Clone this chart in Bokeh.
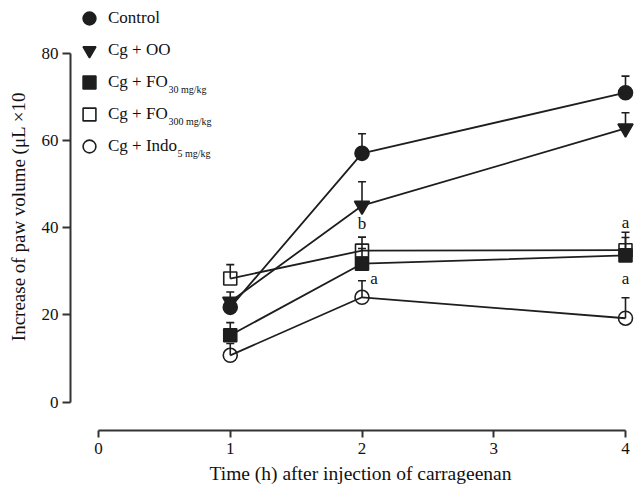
from bokeh.plotting import figure
from bokeh.models import (Range1d, Whisker, TeeHead, ColumnDataSource, Legend,
                          LegendItem, Label, FixedTicker, Title)
from bokeh.core.properties import value
from bokeh.embed import file_html
from bokeh.resources import INLINE

# ---------------- data ----------------
times = [1, 2, 4]
control = [21.7, 57.0, 70.9]
control_err = [2.0, 4.5, 3.8]
oo = [23.0, 45.0, 62.7]
oo_err = [2.2, 5.5, 3.6]
fo30 = [15.3, 31.7, 33.6]
fo30_err = [2.9, 3.5, 4.1]
fo300 = [28.3, 34.7, 34.8]
fo300_err = [3.2, 3.1, 4.1]
indo = [10.7, 24.0, 19.2]
indo_err = [2.7, 3.8, 4.7]

x_ticks = [0, 1, 2, 3, 4]
y_ticks = [0, 20, 40, 60, 80]

x_title = "Time (h) after injection of carrageenan"
y_title = "Increase of paw volume (\u03bcL \u00d710"

# ---------------- geometry (page pixels) ----------------
W, H = 634, 490
FR_L, FR_T, FR_B = 70, 2, 430          # frame edges on the page
px_per_x = 131.75
px_per_y = 4.3625
X0_PX, Y0_PX = 98.0, 401.5             # page position of x=0 / y=0
x_start = (FR_L - X0_PX) / px_per_x
x_end = x_start + (W - FR_L) / px_per_x
y_start = -(FR_B - Y0_PX) / px_per_y
y_end = y_start + (FR_B - FR_T) / px_per_y


def sx(px):  # page px -> data x
    return x_start + (px - FR_L) / px_per_x


def sy(py):  # page px -> data y
    return y_start + (FR_B - py) / px_per_y


FONT = "Liberation Serif"
INK = "#1e1e1e"
TXT = "#111111"

p = figure(width=W, height=H, output_backend="svg", toolbar_location=None,
           x_range=Range1d(x_start, x_end), y_range=Range1d(y_start, y_end),
           min_border_left=FR_L, min_border_right=0, min_border_top=FR_T,
           min_border_bottom=H - FR_B)
p.outline_line_color = None
p.grid.grid_line_color = None

for ax in (p.xaxis[0], p.yaxis[0]):
    ax.axis_line_width = 2
    ax.axis_line_color = "#333333"
    ax.major_tick_line_width = 2
    ax.major_tick_line_color = "#333333"
    ax.major_tick_in = 0
    ax.minor_tick_line_color = None
    ax.major_label_text_font = FONT
    ax.major_label_text_font_size = "17px"
    ax.major_label_text_color = TXT

p.xaxis.bounds = (x_ticks[0], x_ticks[-1])
p.yaxis.bounds = (y_ticks[0], y_ticks[-1])
p.xaxis.ticker = FixedTicker(ticks=x_ticks)
p.yaxis.ticker = FixedTicker(ticks=y_ticks)
p.xaxis.major_tick_out = 7
p.yaxis.major_tick_out = 8
p.xaxis.major_label_standoff = 5
p.yaxis.major_label_standoff = 4

# y axis title
p.yaxis.axis_label = y_title
p.yaxis.axis_label_standoff = 10
p.yaxis.axis_label_text_font = FONT
p.yaxis.axis_label_text_font_size = "19px"
p.yaxis.axis_label_text_font_style = "normal"
p.yaxis.axis_label_text_color = TXT

# x axis title (left-aligned so it sits under the axis bounds as in the original)
p.add_layout(Title(text=x_title, align="left", offset=139, standoff=9,
                   text_font=FONT, text_font_size="19.5px",
                   text_font_style="normal", text_color=TXT), "below")

series = [
    ("Control", control, control_err, "circle", INK, 14),
    ("Cg + OO", oo, oo_err, "inverted_triangle", INK, 15),
    ("Cg + FO", fo30, fo30_err, "square", INK, 13),
    ("Cg + FO", fo300, fo300_err, "square", None, 13),
    ("Cg + Indo", indo, indo_err, "circle", None, 14),
]

items = []
for label, vals, errs, marker, fill, size in series:
    src = ColumnDataSource(dict(x=times, y=vals,
                                upper=[v + e for v, e in zip(vals, errs)]))
    wh = Whisker(source=src, base="x", lower="y", upper="upper",
                 dimension="height", line_width=1.6, line_color=INK,
                 upper_head=TeeHead(size=8, line_width=1.6, line_color=INK),
                 lower_head=None)
    p.add_layout(wh)
    r = p.scatter("x", "y", source=src, marker=marker, size=size,
                  fill_color=fill, line_color=INK, line_width=1.6)
    p.line("x", "y", source=src, line_width=1.8, line_color=INK)
    items.append(LegendItem(label=label, renderers=[r]))

legend = Legend(items=items, location="top_left", margin=0, padding=0,
                spacing=0, glyph_width=38, glyph_height=32, label_height=20,
                label_standoff=0, label_text_font=FONT,
                label_text_font_size="17px", label_text_color=TXT,
                background_fill_alpha=0, border_line_color=None)
p.add_layout(legend)

# subscripts in legend
LEG_TXT = 108
subs = [("30 mg/kg", LEG_TXT + 60, 89), ("300 mg/kg", LEG_TXT + 60, 121),
        ("5 mg/kg", LEG_TXT + 69, 153)]
for txt, px, py in subs:
    p.add_layout(Label(x=sx(px), y=sy(py), text=txt, text_font=FONT,
                       text_font_size="10px", text_color=TXT,
                       text_baseline="alphabetic", text_align="left"))

# significance letters
letter_kw = dict(text_align="center", text_baseline="middle",
                 text_font=value(FONT), text_font_size="17px", text_color=TXT)
p.text(x=[times[1]], y=[oo[1]], text=["b"], y_offset=18, **letter_kw)
p.text(x=[times[1]], y=[indo[1]], text=["a"], x_offset=12, y_offset=-19, **letter_kw)
p.text(x=[times[2]], y=[fo300[2] + fo300_err[2]], text=["a"], y_offset=-10, **letter_kw)
p.text(x=[times[2]], y=[indo[2] + indo_err[2]], text=["a"], y_offset=-19, **letter_kw)

open("out.html", "w").write(file_html(p, INLINE))
